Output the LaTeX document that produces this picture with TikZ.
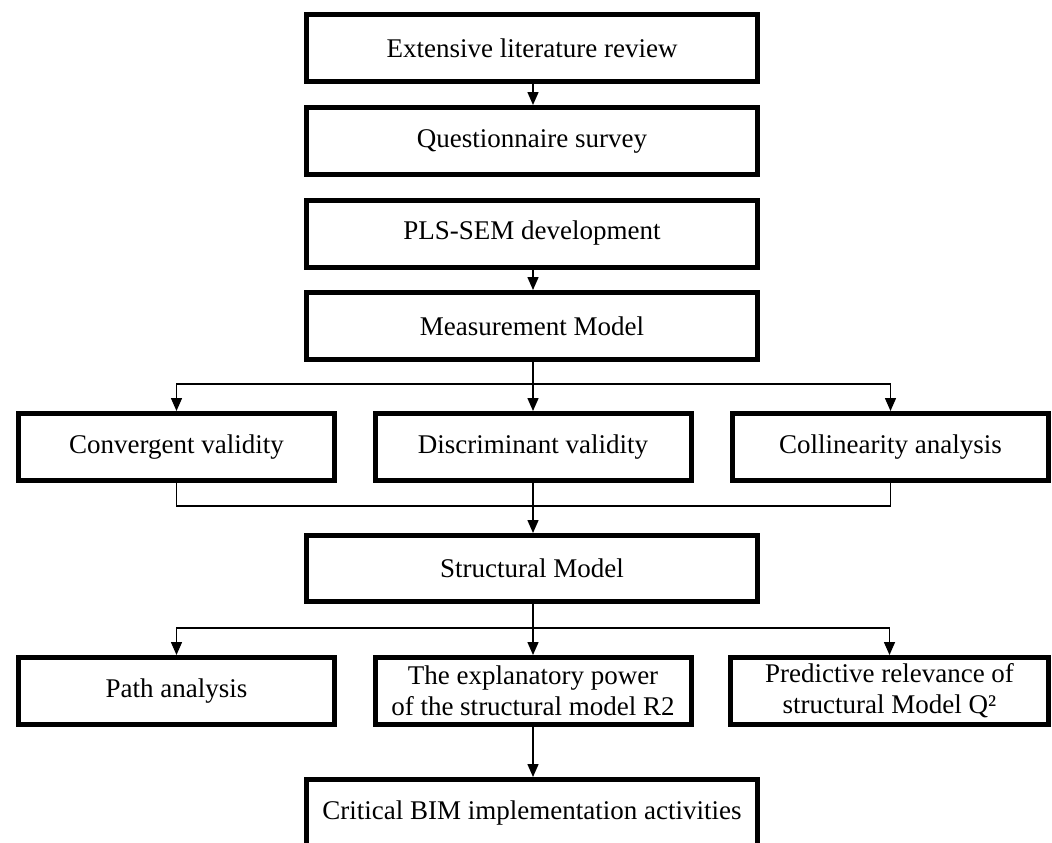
\documentclass[tikz,border=0pt]{standalone}
\usepackage{fontspec}
\setmainfont{Liberation Serif}
\usetikzlibrary{arrows.meta}
\begin{document}
\begin{tikzpicture}[x=1pt,y=-1pt,
  box/.style={draw=black,line width=5pt,fill=white,inner sep=0pt,align=center,
    font=\fontsize{27}{31}\selectfont},
  wbox/.style={box,minimum width=451pt,minimum height=67pt},
  sbox/.style={box,minimum width=316pt,minimum height=67pt},
  conn/.style={line width=1.5pt,draw=black},
  arr/.style={conn,-{Triangle[length=13pt,width=11pt]}}]
\useasboundingbox (0,0) rectangle (1052,843);
\fill[white] (0,0) rectangle (1052,843);
\node[wbox] (b1) at (532,48) {Extensive literature review};
\node[wbox] (b2) at (532,141) {Questionnaire survey};
\node[wbox] (b3) at (532,233.5) {PLS-SEM development};
\node[wbox] (b4) at (532,326) {Measurement Model};
\node[sbox] (c1) at (176.5,447) {Convergent validity};
\node[sbox] (c2) at (533,447) {Discriminant validity};
\node[sbox] (c3) at (890.5,447) {Collinearity analysis};
\node[wbox,minimum height=66pt] (s) at (532,568.5) {Structural Model};
\node[sbox] (p1) at (176.5,691) {Path analysis};
\node[sbox] (p2) at (533,691) {The explanatory power\\of the structural model R2};
\node[sbox,minimum width=318pt] (p3) at (889.5,691) {Predictive relevance of\\structural Model Q²};
\node[wbox] (f) at (532,813) {Critical BIM implementation activities};
\coordinate (m1) at (533,384);
\coordinate (m2) at (533,506);
\coordinate (m3) at (533,628);
\draw[arr] (b1.south -| 533,0) -- (b2.north -| 533,0);
\draw[arr] (b3.south -| 533,0) -- (b4.north -| 533,0);
\draw[arr] (b4.south -| 533,0) -- (c2.north);
\draw[arr] (m1) -| (c1.north);
\draw[arr] (m1) -| (c3.north);
\draw[conn] (c1.south) |- (m2);
\draw[conn] (c3.south) |- (m2);
\draw[arr] (c2.south) -- (s.north -| c2.south);
\draw[arr] (s.south -| 533,0) -- (p2.north);
\draw[arr] (m3) -| (p1.north);
\draw[arr] (m3) -| (p3.north);
\draw[arr] (p2.south) -- (f.north -| p2.south);
\end{tikzpicture}
\end{document}
